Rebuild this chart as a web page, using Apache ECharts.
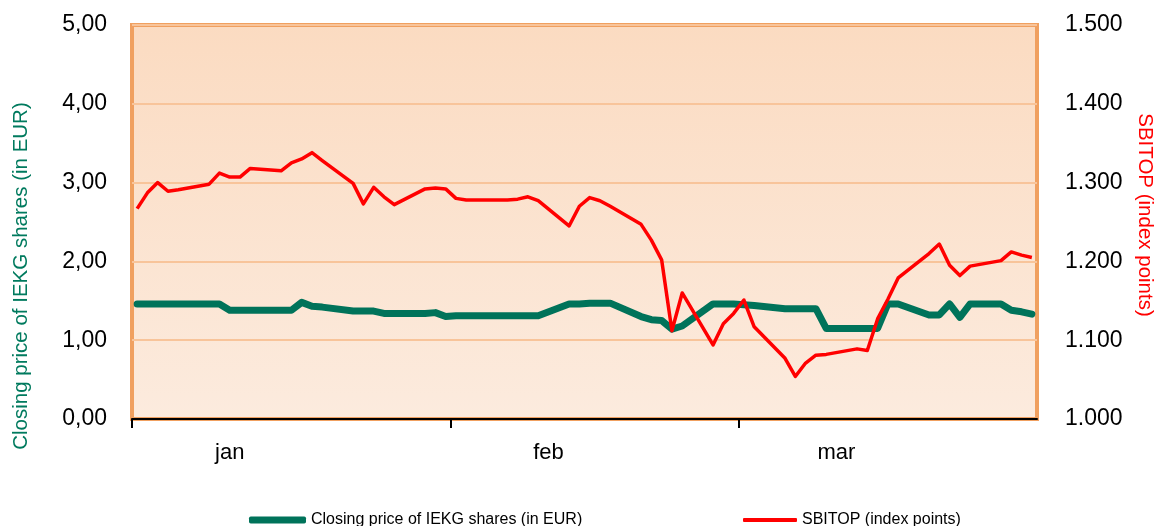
<!DOCTYPE html>
<html>
<head>
<meta charset="utf-8">
<title>IEKG vs SBITOP</title>
<script src="https://cdn.jsdelivr.net/npm/echarts@6/dist/echarts.min.js"></script>
<style>
  html, body { margin: 0; padding: 0; background: #fff; }
  #main { width: 1158px; height: 526px; }
</style>
</head>
<body>
<div id="main"></div>
<script>
// one slot per calendar day, 1 jan - 29 mar (weekends empty)
var monthDays = [['jan', 31], ['feb', 28], ['mar', 29]];
var days = [];
monthDays.forEach(function (m) {
  for (var d = 1; d <= m[1]; d++) days.push(d + ' ' + m[0]);
});
// day boundaries (one more than days) for the month ticks
var dayEdges = days.concat(['30 mar']);

// month labels sit on the 10th, ticks on the 1st
var monthLabels = { 9: 'jan', 40: 'feb', 68: 'mar' };
var monthStarts = [0, 31, 59];

// closing price of IEKG shares (EUR)
var iekg = [
  1.46, 1.46, 1.46, 1.46, 1.46, null, null,
  1.46, 1.46, 1.38, 1.38, 1.38, null, null,
  1.38, 1.38, 1.48, 1.43, 1.42, null, null,
  1.37, 1.37, 1.37, 1.34, 1.34, null, null,
  1.34, 1.35, 1.30, 1.31, 1.31, null, null,
  1.31, 1.31, 1.31, 1.31, 1.31, null, null,
  1.46, 1.46, 1.47, 1.47, 1.47, null, null,
  1.30, 1.26, 1.25, 1.14, 1.18, null, null,
  1.46, 1.46, 1.46, 1.45, 1.44, null, null,
  1.40, 1.40, 1.40, 1.40, 1.15, null, null,
  1.15, 1.15, 1.15, 1.46, 1.46, null, null,
  1.32, 1.32, 1.46, 1.29, 1.46, null, null,
  1.46, 1.38, 1.36, 1.33
];

// SBITOP (index points)
var sbitop = [
  1267, 1287, 1300, 1289, 1291, null, null,
  1298, 1312, 1307, 1307, 1318, null, null,
  1315, 1325, 1330, 1338, 1328, null, null,
  1299, 1273, 1294, 1282, 1272, null, null,
  1292, 1293, 1292, 1280, 1278, null, null,
  1278, 1278, 1279, 1282, 1277, null, null,
  1245, 1270, 1281, 1277, 1270, null, null,
  1247, 1227, 1202, 1112, 1160, null, null,
  1094, 1121, 1134, 1151, 1117, null, null,
  1077, 1054, 1071, 1081, 1082, null, null,
  1089, 1087, 1127, 1152, 1179, null, null,
  1210, 1222, 1195, 1182, 1194, null, null,
  1201, 1212, 1208, 1205
];

var leftName = 'Closing price of IEKG shares (in EUR)';
var rightName = 'SBITOP (index points)';

var chart = echarts.init(document.getElementById('main'));
var font = 'Liberation Sans';

var option = {
  animation: false,
  backgroundColor: '#ffffff',
  textStyle: { fontFamily: font },
  grid: {
    left: 132,
    right: 121,
    top: 25,
    bottom: 107,
    outerBoundsMode: 'none',
    show: true,
    borderColor: '#F0A060',
    borderWidth: 4,
    backgroundColor: new echarts.graphic.LinearGradient(0, 0, 0, 1, [
      { offset: 0, color: '#FBDBC1' },
      { offset: 1, color: '#FCEBDE' }
    ])
  },
  legend: [
    {
      data: [leftName],
      left: 249,
      top: 512,
      padding: 0,
      icon: 'roundRect',
      itemWidth: 57,
      itemHeight: 7,
      textStyle: { fontSize: 16, color: '#000', fontFamily: font }
    },
    {
      data: [rightName],
      left: 743,
      top: 512,
      padding: 0,
      icon: 'roundRect',
      itemWidth: 54,
      itemHeight: 4,
      textStyle: { fontSize: 16, color: '#000', fontFamily: font }
    }
  ],
  xAxis: [
    {
      type: 'category',
      data: days,
      boundaryGap: true,
      axisLine: { lineStyle: { color: '#000', width: 2 } },
      axisTick: { show: false },
      axisLabel: {
        margin: 23,
        fontSize: 22,
        color: '#000',
        interval: function (idx) { return monthLabels[idx] !== undefined; },
        formatter: function (v, idx) { return monthLabels[idx] || ''; }
      },
      splitLine: { show: false }
    },
    {
      // only carries the month-start ticks
      type: 'category',
      data: dayEdges,
      position: 'bottom',
      boundaryGap: false,
      axisLine: { show: false },
      axisLabel: { show: false },
      axisTick: {
        show: true,
        length: 9,
        lineStyle: { color: '#000', width: 2 },
        interval: function (idx) { return monthStarts.indexOf(idx) >= 0; }
      },
      splitLine: { show: false }
    }
  ],
  yAxis: [
    {
      type: 'value',
      min: 0,
      max: 5,
      interval: 1,
      name: leftName,
      nameLocation: 'middle',
      nameRotate: 90,
      nameGap: 100,
      nameTextStyle: { color: '#007A5E', fontSize: 20.5, padding: [0, 108, 0, 0] },
      axisLine: { show: false },
      axisTick: { show: false },
      axisLabel: {
        margin: 25,
        fontSize: 23,
        color: '#000',
        formatter: function (v) { return v.toFixed(2).replace('.', ','); }
      },
      splitLine: { lineStyle: { color: '#F8C49A', width: 2 } }
    },
    {
      type: 'value',
      min: 1000,
      max: 1500,
      interval: 100,
      name: rightName,
      nameLocation: 'middle',
      nameRotate: -90,
      nameGap: 97,
      nameTextStyle: { color: '#FF0000', fontSize: 20.5, padding: [0, 14, 0, 0] },
      axisLine: { show: false },
      axisTick: { show: false },
      axisLabel: {
        margin: 28,
        fontSize: 23,
        color: '#000',
        formatter: function (v) { return Math.floor(v / 1000) + '.' + String(v % 1000).padStart(3, '0'); }
      },
      splitLine: { show: false }
    }
  ],
  series: [
    {
      name: leftName,
      type: 'line',
      xAxisIndex: 0,
      yAxisIndex: 0,
      data: iekg,
      connectNulls: true,
      showSymbol: false,
      color: '#00735A',
      lineStyle: { width: 7, cap: 'round', join: 'round' }
    },
    {
      name: rightName,
      type: 'line',
      xAxisIndex: 0,
      yAxisIndex: 1,
      data: sbitop,
      connectNulls: true,
      showSymbol: false,
      color: '#FF0000',
      lineStyle: { width: 3.5, join: 'round' }
    }
  ]
};

chart.setOption(option);
</script>
</body>
</html>
